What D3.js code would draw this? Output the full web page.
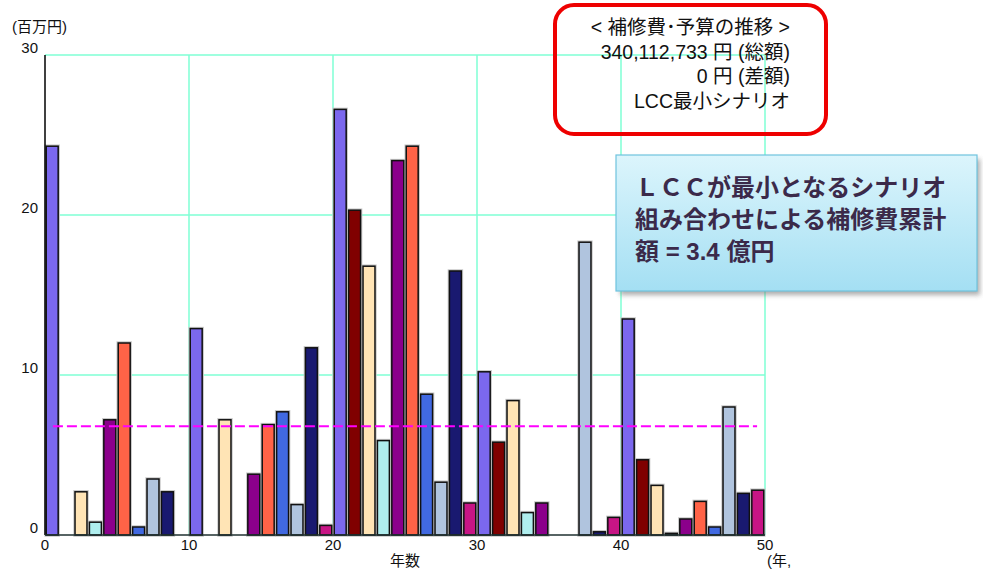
<!DOCTYPE html>
<html>
<head>
<meta charset="utf-8">
<script src="https://cdn.jsdelivr.net/npm/d3@7"></script>
<style>
  body { margin: 0; background: #fff; }
  text { font-family: "Liberation Sans", "Noto Sans CJK JP", sans-serif; }
</style>
</head>
<body>
<div id="chart"></div>
<script>
// repair cost per year (million yen), year 0..49
const years = d3.range(0, 50);
const costs = [
  24.3, 0, 2.7, 0.8, 7.2, 12.0, 0.5, 3.5, 2.7, 0,
  12.9, 0, 7.2, 0, 3.8, 6.9, 7.7, 1.9, 11.7, 0.6,
  26.6, 20.3, 16.8, 5.9, 23.4, 24.3, 8.8, 3.3, 16.5, 2.0,
  10.2, 5.8, 8.4, 1.4, 2.0, 0, 0, 18.3, 0.2, 1.1,
  13.5, 4.7, 3.1, 0.1, 1.0, 2.1, 0.5, 8.0, 2.6, 2.8
];
const avgCost = 6.8;
const xTicks = [0, 10, 20, 30, 40, 50];
const yTicks = [0, 10, 20, 30];

// colour by year (cycles every 10 years)
const palette = ['#7b68ee', '#800000', '#ffe4b5', '#afeeee', '#8b008b',
                 '#ff6347', '#4169e1', '#b0c4de', '#191970', '#c71585'];

const infoLines = ['< 補修費･予算の推移 >', '340,112,733 円 (総額)', '0 円 (差額)', 'LCC最小シナリオ'];
const calloutLines = ['ＬＣＣが最小となるシナリオ', '組み合わせによる補修費累計', '額 = 3.4 億円'];

const W = 983, H = 572;
const margin = {top: 55, right: 218, bottom: 37, left: 45};
const width = W - margin.left - margin.right,
      height = H - margin.top - margin.bottom;

const svg = d3.select('#chart').append('svg')
    .attr('width', W)
    .attr('height', H);

const defs = svg.append('defs');
const grad = defs.append('linearGradient')
    .attr('id', 'calloutFill')
    .attr('x1', 0).attr('y1', 0).attr('x2', 0).attr('y2', 1);
grad.append('stop').attr('offset', '0%').attr('stop-color', '#dcf5fc');
grad.append('stop').attr('offset', '100%').attr('stop-color', '#a4dff3');
const blur = defs.append('filter').attr('id', 'shadow')
    .attr('x', '-10%').attr('y', '-10%').attr('width', '130%').attr('height', '130%');
blur.append('feGaussianBlur').attr('stdDeviation', 2.5);

const g = svg.append('g')
    .attr('transform', 'translate(' + margin.left + ',' + margin.top + ')');

const x = d3.scaleLinear().domain([0, 50]).range([0, width]);
const y = d3.scaleLinear().domain([0, 30]).range([height, 0]);
const bw = (x(1) - x(0)) * 0.83;

// grid lines
g.selectAll('.vgrid')
    .data(xTicks.filter(d => d > 0))
    .enter().append('line')
    .attr('x1', d => x(d)).attr('x2', d => x(d))
    .attr('y1', 0).attr('y2', height)
    .attr('stroke', '#7fffd4').attr('stroke-width', 1.5);
g.selectAll('.hgrid')
    .data(yTicks.filter(d => d > 0))
    .enter().append('line')
    .attr('x1', 0).attr('x2', width)
    .attr('y1', d => y(d)).attr('y2', d => y(d))
    .attr('stroke', '#7fffd4').attr('stroke-width', 1.5);

// bars
const barData = years.map((yr, i) => ({year: yr, value: costs[i]})).filter(d => d.value > 0);
g.selectAll('.halo')
    .data(barData)
    .enter().append('rect')
    .attr('x', d => x(d.year + 0.5) - bw / 2)
    .attr('y', d => y(d.value))
    .attr('width', bw)
    .attr('height', d => height - y(d.value))
    .attr('fill', 'none')
    .attr('stroke', '#c8c8c8')
    .attr('stroke-width', 3.5);
g.selectAll('.bar')
    .data(barData)
    .enter().append('rect')
    .attr('class', 'bar')
    .attr('x', d => x(d.year + 0.5) - bw / 2)
    .attr('y', d => y(d.value))
    .attr('width', bw)
    .attr('height', d => height - y(d.value))
    .attr('fill', d => palette[d.year % 10])
    .attr('stroke', '#111')
    .attr('stroke-width', 1.5);

// average line
g.append('line')
    .attr('x1', x(0.55)).attr('x2', x(49.45))
    .attr('y1', y(avgCost)).attr('y2', y(avgCost))
    .attr('stroke', '#ff00ff')
    .attr('stroke-width', 2)
    .attr('stroke-dasharray', '10,4');

// axes
g.append('line')
    .attr('x1', 0).attr('x2', 0).attr('y1', 0).attr('y2', height)
    .attr('stroke', '#000').attr('stroke-width', 1.5);
g.append('line')
    .attr('x1', 0).attr('x2', width).attr('y1', height).attr('y2', height)
    .attr('stroke', '#1f3030').attr('stroke-width', 1.5);

g.selectAll('.ylab')
    .data(yTicks)
    .enter().append('text')
    .attr('x', -7)
    .attr('y', d => y(d) - 2)
    .attr('text-anchor', 'end')
    .attr('font-size', 15)
    .attr('fill', '#111')
    .text(d => d);

g.selectAll('.xlab')
    .data(xTicks)
    .enter().append('text')
    .attr('x', d => x(d))
    .attr('y', height + 15)
    .attr('text-anchor', 'middle')
    .attr('font-size', 15)
    .attr('fill', '#111')
    .text(d => d);

g.append('text')
    .attr('x', x(25)).attr('y', height + 31)
    .attr('text-anchor', 'middle')
    .attr('font-size', 15)
    .attr('fill', '#111')
    .text('年数');
g.append('text')
    .attr('x', x(50) + 2).attr('y', height + 31)
    .attr('font-size', 15)
    .attr('fill', '#111')
    .text('(年,');

svg.append('text')
    .attr('x', 12).attr('y', 32)
    .attr('font-size', 15)
    .attr('fill', '#111')
    .text('(百万円)');

// info box (red rounded frame)
svg.append('rect')
    .attr('x', 555).attr('y', 5)
    .attr('width', 271).attr('height', 129)
    .attr('rx', 19)
    .attr('fill', 'none')
    .attr('stroke', '#ee0000')
    .attr('stroke-width', 4);
svg.selectAll('.info')
    .data(infoLines)
    .enter().append('text')
    .attr('x', 790)
    .attr('y', (d, i) => 34 + i * 24.5)
    .attr('text-anchor', 'end')
    .attr('font-size', 19.5)
    .attr('fill', '#111')
    .text(d => d);

// callout box
svg.append('rect')
    .attr('x', 620).attr('y', 159)
    .attr('width', 360).attr('height', 136)
    .attr('fill', '#777')
    .attr('opacity', 0.6)
    .attr('filter', 'url(#shadow)');
svg.append('rect')
    .attr('x', 616).attr('y', 155)
    .attr('width', 361).attr('height', 136)
    .attr('fill', 'url(#calloutFill)')
    .attr('stroke', '#6fc3de')
    .attr('stroke-width', 1.2);
svg.selectAll('.callout')
    .data(calloutLines)
    .enter().append('text')
    .attr('x', 635)
    .attr('y', (d, i) => 196 + i * 32)
    .attr('font-size', 24)
    .attr('font-weight', 'bold')
    .attr('fill', '#3b2a4a')
    .text(d => d);
</script>
</body>
</html>
